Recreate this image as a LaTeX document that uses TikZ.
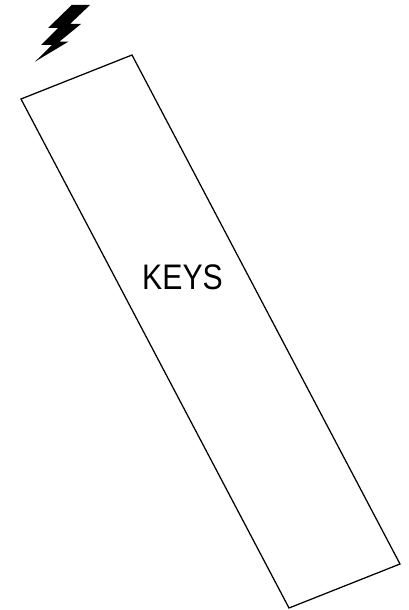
\documentclass[tikz,border=0pt]{standalone}
\usepackage{fontspec}
\setmainfont{Liberation Sans}
\tikzset{keybox/.style={draw=black,line width=1.25pt,line join=miter,fill=white},
 boltshape/.style={fill=black,draw=none},
 keylabel/.style={inner sep=0pt,font=\fontsize{35.5}{35.5}\selectfont,text=black}}
\begin{document}
\begin{tikzpicture}[x=1pt,y=-1pt]
\useasboundingbox (0,0) rectangle (408,610);
\coordinate (a) at (21,99);
\coordinate (b) at (132,55);
\coordinate (c) at (400,564);
\coordinate (d) at (289,608);
\draw[keybox] (a) -- (b) -- (c) -- (d) -- cycle;
\node[keylabel] (keys) at (182.5,277) {\scalebox{0.85}[1]{KEYS}};
\fill[boltshape] (71.7,5) -- (90,5) -- (70,24) -- (81,24) -- (59.3,41.7) -- (68.3,41.7) -- (35,61.7) -- (52,45) -- (41,45) -- (58,28) -- (48,28) -- cycle;
\end{tikzpicture}
\end{document}
